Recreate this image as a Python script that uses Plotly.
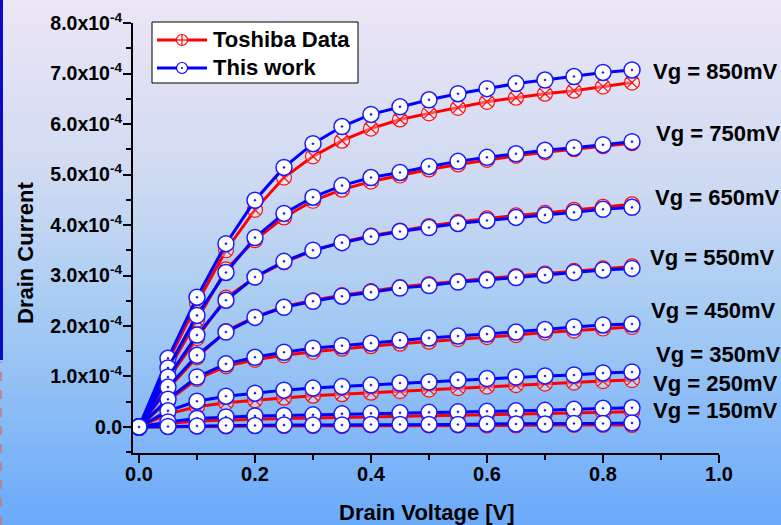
import numpy as np
import plotly.graph_objects as go

# ---------------- data (drain current in units of 1e-4 A) ----------------
vd = [0.00, 0.05, 0.10, 0.15, 0.20, 0.25, 0.30, 0.35, 0.40,
      0.45, 0.50, 0.55, 0.60, 0.65, 0.70, 0.75, 0.80, 0.85]

vg_labels = ["Vg = 850mV", "Vg = 750mV", "Vg = 650mV", "Vg = 550mV",
             "Vg = 450mV", "Vg = 350mV", "Vg = 250mV", "Vg = 150mV"]

series_names = ["Toshiba Data", "This work"]

work_850 = [0, 1.36, 2.57, 3.63, 4.49, 5.14, 5.61, 5.95, 6.19, 6.34, 6.48, 6.60, 6.70, 6.80, 6.87, 6.94, 7.02, 7.07]
tosh_850 = [0, 1.30, 2.45, 3.50, 4.30, 4.94, 5.36, 5.67, 5.91, 6.09, 6.21, 6.32, 6.44, 6.52, 6.60, 6.66, 6.74, 6.82]
work_750 = [0, 1.17, 2.21, 3.06, 3.75, 4.23, 4.55, 4.78, 4.94, 5.04, 5.16, 5.26, 5.34, 5.41, 5.48, 5.53, 5.59, 5.65]
tosh_750 = [0, 1.12, 2.12, 3.12, 3.70, 4.15, 4.48, 4.70, 4.86, 4.98, 5.10, 5.20, 5.29, 5.37, 5.44, 5.50, 5.56, 5.62]
work_650 = [0, 0.99, 1.82, 2.51, 2.97, 3.28, 3.50, 3.65, 3.77, 3.87, 3.95, 4.03, 4.09, 4.15, 4.20, 4.25, 4.31, 4.35]
tosh_650 = [0, 0.95, 1.76, 2.56, 2.96, 3.26, 3.49, 3.66, 3.79, 3.89, 3.98, 4.06, 4.13, 4.19, 4.24, 4.30, 4.36, 4.41]
work_550 = [0, 0.79, 1.42, 1.88, 2.17, 2.37, 2.49, 2.59, 2.67, 2.75, 2.80, 2.87, 2.91, 2.96, 3.01, 3.06, 3.11, 3.14]
tosh_550 = [0, 0.76, 1.38, 1.90, 2.18, 2.38, 2.51, 2.61, 2.69, 2.77, 2.83, 2.89, 2.94, 2.99, 3.04, 3.09, 3.14, 3.18]
work_450 = [0, 0.55, 0.99, 1.25, 1.38, 1.48, 1.56, 1.61, 1.66, 1.72, 1.76, 1.80, 1.84, 1.88, 1.93, 1.98, 2.02, 2.04]
tosh_450 = [0, 0.52, 0.95, 1.20, 1.33, 1.42, 1.49, 1.55, 1.60, 1.65, 1.69, 1.74, 1.78, 1.82, 1.87, 1.91, 1.95, 1.98]
work_350 = [0, 0.32, 0.51, 0.61, 0.67, 0.73, 0.77, 0.80, 0.83, 0.87, 0.89, 0.93, 0.96, 0.99, 1.01, 1.03, 1.07, 1.09]
tosh_350 = [0, 0.26, 0.40, 0.48, 0.53, 0.58, 0.62, 0.65, 0.68, 0.71, 0.74, 0.77, 0.80, 0.83, 0.86, 0.88, 0.91, 0.93]
work_250 = [0, 0.10, 0.17, 0.20, 0.22, 0.23, 0.24, 0.26, 0.27, 0.28, 0.29, 0.30, 0.31, 0.32, 0.33, 0.35, 0.37, 0.38]
tosh_250 = [0, 0.07, 0.12, 0.14, 0.16, 0.17, 0.18, 0.19, 0.20, 0.21, 0.22, 0.23, 0.24, 0.25, 0.26, 0.27, 0.29, 0.30]
work_150 = [0, 0.01, 0.02, 0.03, 0.03, 0.04, 0.04, 0.04, 0.05, 0.05, 0.05, 0.05, 0.06, 0.06, 0.06, 0.07, 0.07, 0.08]
tosh_150 = [0, 0.00, 0.01, 0.01, 0.02, 0.02, 0.02, 0.02, 0.03, 0.03, 0.03, 0.03, 0.03, 0.03, 0.04, 0.04, 0.04, 0.04]

work_all = [work_850, work_750, work_650, work_550, work_450, work_350, work_250, work_150]
tosh_all = [tosh_850, tosh_750, tosh_650, tosh_550, tosh_450, tosh_350, tosh_250, tosh_150]

# label anchor: x (V) and y current (1e-4 A)
label_x = [0.882, 0.888, 0.886, 0.877, 0.879, 0.888, 0.882, 0.882]
label_y = [7.03, 5.82, 4.55, 3.35, 2.30, 1.44, 0.87, 0.33]

y_tickvals = [0, 1, 2, 3, 4, 5, 6, 7, 8]
y_ticktext = ["0.0"] + ["%d.0x10<sup>-4</sup>" % v for v in y_tickvals[1:]]
x_tickvals = [0.0, 0.2, 0.4, 0.6, 0.8, 1.0]
x_ticktext = ["0.0", "0.2", "0.4", "0.6", "0.8", "1.0"]

SCALE = 1e-4
W, H = 781, 525
FONT = "Liberation Sans, Arial, sans-serif"
FS = 22
RED, BLUE = "#ff0000", "#0000ff"

def px(x):
    return x / W

def py(y):
    return 1 - y / H

fig = go.Figure()

# background gradient bands
stops = [(0.0, (236, 230, 245)), (0.35, (206, 218, 242)), (0.6, (165, 203, 243)), (1.0, (106, 170, 250))]
def col_at(t):
    for (t0, c0), (t1, c1) in zip(stops[:-1], stops[1:]):
        if t0 <= t <= t1:
            f = (t - t0) / (t1 - t0)
            return tuple(int(round(c0[i] + (c1[i] - c0[i]) * f)) for i in range(3))
    return stops[-1][1]

nb = 70
shapes = []
for i in range(nb):
    t = (i + 0.5) / nb
    c = col_at(t)
    shapes.append(dict(type="rect", xref="paper", yref="paper", x0=0, x1=1,
                       y0=1 - (i + 1) / nb - 0.001, y1=1 - i / nb,
                       fillcolor="rgb(%d,%d,%d)" % c, line=dict(width=0), layer="below"))
# left edge decorations
shapes.append(dict(type="rect", xref="paper", yref="paper", x0=0, x1=px(3), y0=py(360), y1=1,
                   fillcolor="#0a0ac8", line=dict(width=0), layer="below"))
shapes.append(dict(type="line", xref="paper", yref="paper", x0=px(1), x1=px(1), y0=0, y1=py(362),
                   line=dict(color="#c87878", width=1.5, dash="dash"), layer="below"))

# ---- legend box (drawn manually to match the original's compact layout) ----
shapes.append(dict(type="rect", xref="paper", yref="paper", x0=px(152), x1=px(358), y0=py(83), y1=py(22),
                   fillcolor="white", line=dict(color="black", width=1), layer="above"))
leg_rows = [40, 68]
leg_cols = [RED, BLUE]
for ry, col in zip(leg_rows, leg_cols):
    shapes.append(dict(type="line", xref="paper", yref="paper", x0=px(157), x1=px(207), y0=py(ry), y1=py(ry),
                       line=dict(color=col, width=3), layer="above"))
    shapes.append(dict(type="circle", xref="paper", yref="paper", x0=px(176.5), x1=px(187.5),
                       y0=py(ry + 5.5), y1=py(ry - 5.5), fillcolor="white",
                       line=dict(color=col, width=1.2), layer="above"))
# cross inside the red symbol
shapes.append(dict(type="line", xref="paper", yref="paper", x0=px(182), x1=px(182), y0=py(45.5), y1=py(34.5),
                   line=dict(color=RED, width=1.2), layer="above"))
shapes.append(dict(type="line", xref="paper", yref="paper", x0=px(176.5), x1=px(187.5), y0=py(40), y1=py(40),
                   line=dict(color=RED, width=1.2), layer="above"))
# dot inside the blue symbol
shapes.append(dict(type="circle", xref="paper", yref="paper", x0=px(181), x1=px(183), y0=py(69), y1=py(67),
                   fillcolor=BLUE, line=dict(color=BLUE, width=0), layer="above"))

x_arr = np.array(vd)

for i, ys in enumerate(tosh_all):
    fig.add_trace(go.Scatter(
        x=x_arr, y=np.array(ys) * SCALE, mode="lines+markers", showlegend=False,
        name=series_names[0], legendgroup="tosh",
        line=dict(color=RED, width=3),
        marker=dict(symbol="circle-x", size=15, color="rgba(255,255,255,0.35)",
                    line=dict(color="#ff1010", width=1.2))))
for i, ys in enumerate(work_all):
    fig.add_trace(go.Scatter(
        x=x_arr, y=np.array(ys) * SCALE, mode="lines+markers", showlegend=False,
        name=series_names[1], legendgroup="work",
        line=dict(color=BLUE, width=3),
        marker=dict(symbol="circle-dot", size=16, color="white",
                    line=dict(color="#1a1aff", width=1.5))))

annotations = []
for lab, lx, ly in zip(vg_labels, label_x, label_y):
    annotations.append(dict(x=lx, y=ly * SCALE, xref="x", yref="y", text="<b>%s</b>" % lab,
                            showarrow=False, xanchor="left", yanchor="middle",
                            font=dict(family=FONT, size=FS, color="black")))
for ry, name in zip(leg_rows, series_names):
    annotations.append(dict(x=px(211), y=py(ry), xref="paper", yref="paper", text="<b>%s</b>" % name,
                            showarrow=False, xanchor="left", yanchor="middle",
                            font=dict(family=FONT, size=FS, color="black")))
annotations.append(dict(x=px(427), y=py(512), xref="paper", yref="paper",
                        text="<b>Drain Voltage [V]</b>", showarrow=False,
                        xanchor="center", yanchor="middle",
                        font=dict(family=FONT, size=FS, color="black")))
annotations.append(dict(x=px(26), y=py(253), xref="paper", yref="paper",
                        text="<b>Drain Current</b>", showarrow=False, textangle=-90,
                        xanchor="center", yanchor="middle",
                        font=dict(family=FONT, size=FS, color="black")))

fig.update_layout(
    width=W, height=H,
    margin=dict(l=0, r=0, t=0, b=0, pad=0, autoexpand=False),
    paper_bgcolor="#e0e6f4",
    plot_bgcolor="rgba(0,0,0,0)",
    font=dict(family=FONT, color="black"),
    shapes=shapes,
    annotations=annotations,
    showlegend=False,
    xaxis=dict(domain=[px(133), px(719)], range=[-0.0103, 1.0], automargin=False,
               tickvals=x_tickvals, ticktext=x_ticktext,
               ticks="outside", ticklen=8, tickwidth=2, tickcolor="black",
               showline=True, linecolor="black", linewidth=2,
               showgrid=False, zeroline=False, ticklabelstandoff=-6,
               tickfont=dict(family=FONT, size=20, color="black", weight="bold"),
               minor=dict(dtick=0.1, tick0=0, ticks="outside", ticklen=5, tickwidth=2, tickcolor="black", showgrid=False)),
    yaxis=dict(domain=[py(453), py(23)], range=[-0.515e-4, 8.0e-4], automargin=False,
               tickvals=[v * SCALE for v in y_tickvals], ticktext=y_ticktext,
               ticks="outside", ticklen=8, tickwidth=2, tickcolor="black",
               showline=True, linecolor="black", linewidth=2,
               showgrid=False, zeroline=False, ticklabelstandoff=-3,
               tickfont=dict(family=FONT, size=19.5, color="black", weight="bold"),
               minor=dict(dtick=0.5e-4, tick0=0, ticks="outside", ticklen=5, tickwidth=2, tickcolor="black", showgrid=False)),
)

fig.write_html("out.html")
